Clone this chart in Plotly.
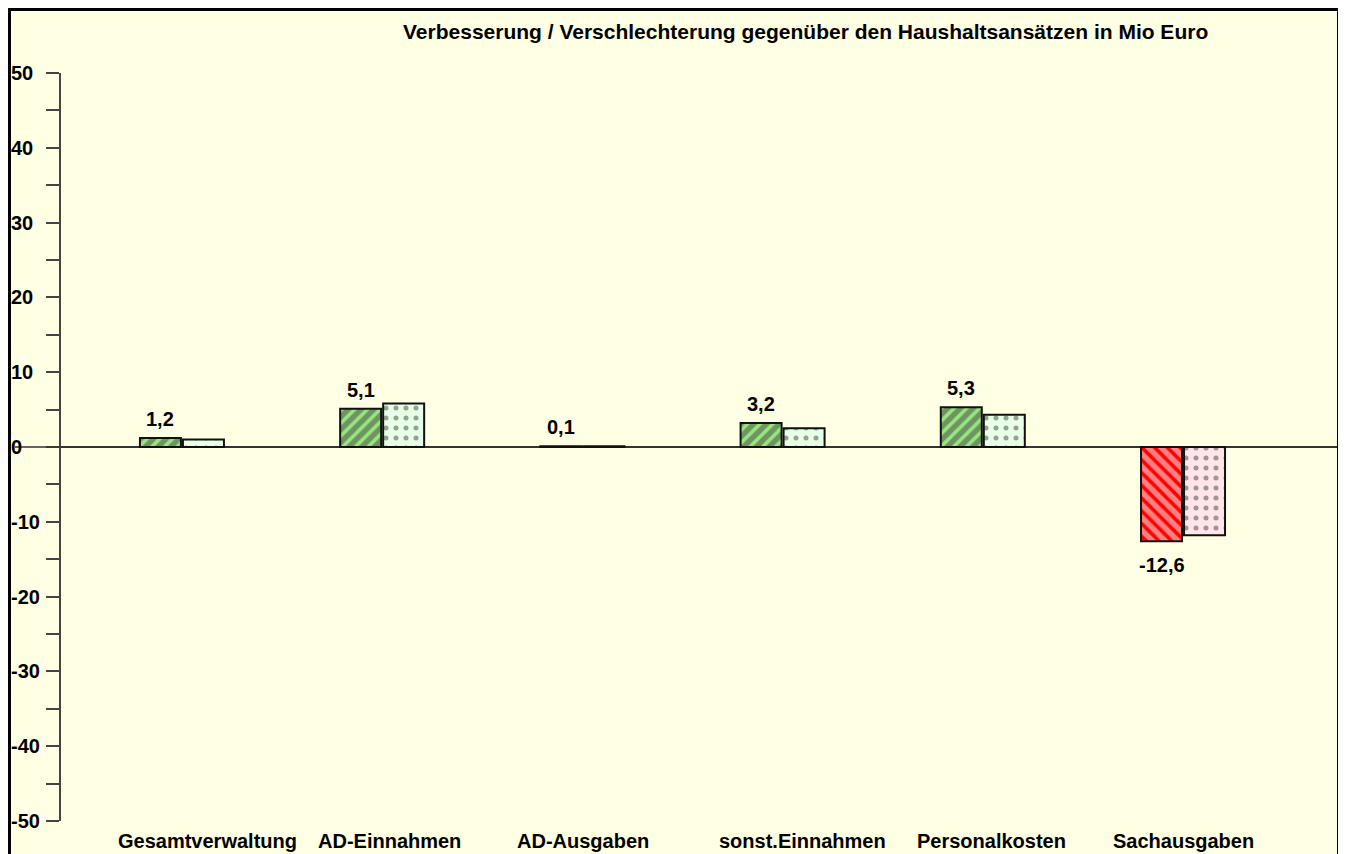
import plotly.graph_objects as go

categories = ["Gesamtverwaltung", "AD-Einnahmen", "AD-Ausgaben",
              "sonst.Einnahmen", "Personalkosten", "Sachausgaben"]
ist_values = [1.2, 5.1, 0.1, 3.2, 5.3, -12.6]
prognose_values = [1.0, 5.8, 0.1, 2.5, 4.3, -11.8]
label_texts = ["1,2", "5,1", "0,1", "3,2", "5,3", "-12,6"]
y_tick_vals = [50, 40, 30, 20, 10, 0, -10, -20, -30, -40, -50]
title_text = "Verbesserung / Verschlechterung gegenüber den Haushaltsansätzen in Mio Euro"

# style: horizontal nudges of the category captions (pixels)
caption_nudge = [26, 7, 1, 20, 9, 0]

# page offset caused by the default body margin
OFF = 8
W, H = 1346 - OFF, 854 - OFF
L, R, T, B = 61 - OFF, W - (1337 - OFF), 73 - OFF, H - (821 - OFF)
pw, ph = W - L - R, H - T - B

def px_x(page_px):
    return (page_px - OFF - L) / pw

def px_y(page_py):
    return (H - B - (page_py - OFF)) / ph

BG = "#FFFFE4"
FONT = "Liberation Sans, Arial, sans-serif"

hatch_colors = ["#99E57F" if v >= 0 else "#FF0000" for v in ist_values]
hatch_shapes = ["/" if v >= 0 else "\\" for v in ist_values]
dot_colors = ["#E6FFE6" if v >= 0 else "#FFE4EA" for v in prognose_values]

fig = go.Figure()
fig.add_trace(go.Bar(
    x=categories, y=ist_values,
    marker=dict(color=hatch_colors,
                line=dict(color="#111111", width=2),
                pattern=dict(shape=hatch_shapes, fgcolor="#000000",
                             bgcolor=hatch_colors, size=9, solidity=0.6,
                             fillmode="overlay")),
    showlegend=False, hoverinfo="skip",
))
fig.add_trace(go.Bar(
    x=categories, y=prognose_values,
    marker=dict(color=dot_colors,
                line=dict(color="#111111", width=2),
                pattern=dict(shape=".", fgcolor="#000000",
                             bgcolor=dot_colors, size=10, solidity=0.2,
                             fillmode="overlay")),
    showlegend=False, hoverinfo="skip",
))

annotations = []
for cat, v, t in zip(categories, ist_values, label_texts):
    annotations.append(dict(
        x=cat, y=v, xref="x", yref="y", text="<b>" + t + "</b>", showarrow=False,
        xshift=-21.5, yshift=6 if v >= 0 else -11,
        yanchor="bottom" if v >= 0 else "top",
        font=dict(family=FONT, size=20, color="#000000"),
    ))
for v in y_tick_vals:
    annotations.append(dict(
        x=px_x(9), y=v, xref="paper", yref="y", text="<b>" + str(v) + "</b>",
        showarrow=False, xanchor="left", yanchor="middle",
        font=dict(family=FONT, size=20, color="#000000"),
    ))
for cat, nudge in zip(categories, caption_nudge):
    annotations.append(dict(
        x=cat, y=px_y(841), xref="x", yref="paper", text="<b>" + cat + "</b>",
        showarrow=False, xanchor="center", yanchor="middle", xshift=nudge,
        font=dict(family=FONT, size=20, color="#000000"),
    ))
annotations.append(dict(
    x=px_x(805.5), y=px_y(32), xref="paper", yref="paper",
    text="<b>" + title_text + "</b>",
    showarrow=False, xanchor="center", yanchor="middle",
    font=dict(family=FONT, size=21, color="#000000"),
))

shapes = [
    dict(type="line", xref="paper", yref="y", x0=px_x(15), x1=px_x(61), y0=0, y1=0,
         line=dict(color="#333333", width=1.5)),
    dict(type="rect", xref="paper", yref="paper", x0=px_x(9.5), x1=px_x(1338.5),
         y0=px_y(900), y1=px_y(9.5), line=dict(color="#000000", width=3),
         fillcolor="rgba(0,0,0,0)", layer="above"),
]

fig.update_layout(
    width=W, height=H,
    margin=dict(l=L, r=R, t=T, b=B, pad=0),
    paper_bgcolor=BG, plot_bgcolor=BG,
    barmode="group", bargap=0.5704, bargroupgap=0.0465,
    font=dict(family=FONT, size=18, color="#000000"),
    annotations=annotations, shapes=shapes,
    xaxis=dict(range=[-0.604, 5.769], showgrid=False, zeroline=False,
               showline=False, ticks="", showticklabels=False, fixedrange=True),
    yaxis=dict(range=[-50, 50], showgrid=False, zeroline=True,
               zerolinecolor="#333333", zerolinewidth=1.5,
               showline=True, linecolor="#444444", linewidth=1.5,
               ticks="outside", ticklen=13, tickwidth=1.5, tickcolor="#444444",
               tickvals=y_tick_vals, showticklabels=False,
               minor=dict(dtick=5, ticks="outside", ticklen=13, tickwidth=1.5,
                          tickcolor="#444444"),
               fixedrange=True),
)

fig.write_html("out.html")
